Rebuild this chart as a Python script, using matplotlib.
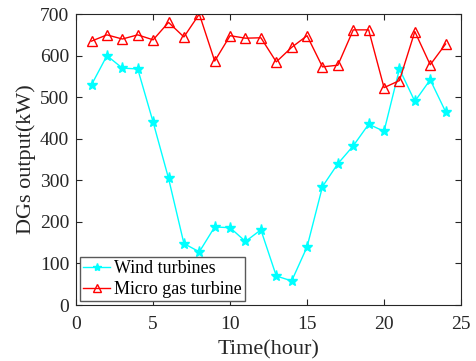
"""DGs output over 24 hours: wind turbines vs micro gas turbine."""
import matplotlib
matplotlib.use("Agg")
import matplotlib.pyplot as plt

hours = list(range(1, 25))
wind = [530, 600, 570, 568, 440, 305, 148, 128, 188, 186, 153, 181,
        70, 58, 140, 285, 340, 383, 435, 418, 568, 490, 542, 465]
gas = [635, 650, 640, 650, 638, 680, 645, 700, 587, 648, 642, 643,
       585, 620, 648, 573, 577, 662, 662, 523, 540, 658, 578, 628]

plt.rcParams["font.family"] = ["Liberation Serif", "DejaVu Serif"]
dark = "#262626"

fig = plt.figure(figsize=(4.76, 3.61), dpi=100)
ax = fig.add_axes([0.16, 0.155, 0.8085, 0.806])

ax.plot(hours, wind, "-*", color="cyan", lw=1, ms=8, label="Wind turbines")
ax.plot(hours, gas, "-^", color="red", lw=1, ms=7, mfc="none",
        label="Micro gas turbine")

ax.set_xlim(0, 25)
ax.set_ylim(0, 700)
ax.set_xticks(range(0, 26, 5))
ax.set_yticks(range(0, 701, 100))
ax.tick_params(direction="in", top=True, right=True, labelsize=14, length=4,
               color=dark, labelcolor=dark)
ax.tick_params(axis="x", pad=8)
ax.tick_params(axis="y", pad=5)
for sp in ax.spines.values():
    sp.set_color(dark)
ax.set_xlabel("Time(hour)", fontsize=16, labelpad=5, color=dark)
ax.set_ylabel("DGs output(kW)", fontsize=16, labelpad=3, color=dark)

leg = ax.legend(loc="lower left", fontsize=13, fancybox=False, framealpha=1,
                edgecolor="0.35", borderpad=0.2, labelspacing=0.2,
                handlelength=1.5, handletextpad=0.2, borderaxespad=0.2,
                markerscale=0.75)
leg.get_frame().set_linewidth(1.0)

fig.savefig("out.png", dpi=100)
